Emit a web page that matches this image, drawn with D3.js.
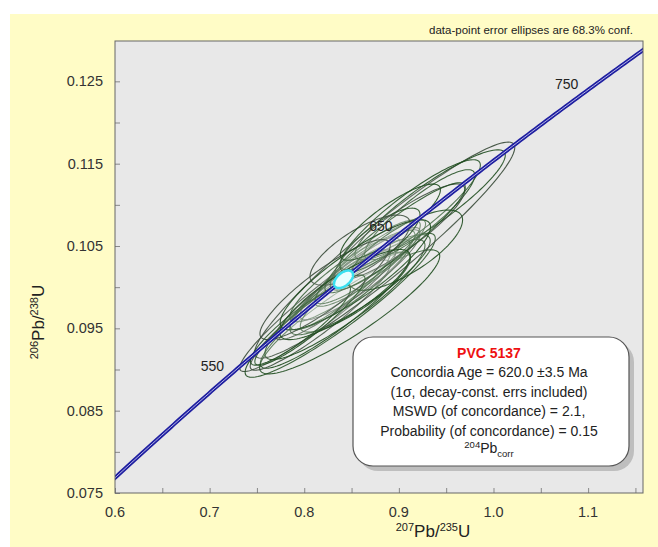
<!DOCTYPE html>
<html>
<head>
<meta charset="utf-8">
<script src="https://cdn.jsdelivr.net/npm/d3@7"></script>
<style>
  body { margin: 0; background: #fff; }
  svg text { font-family: "Liberation Sans", Arial, sans-serif; }
</style>
</head>
<body>
<div id="chart"></div>
<script>
// Spot analyses: 207Pb/235U, 206Pb/238U, 1 sigma errors and error correlation
const ratio75 = [0.827, 0.838, 0.848, 0.833, 0.817, 0.843, 0.848, 0.843, 0.859, 0.838, 0.854, 0.864, 0.833, 0.870,
  0.859, 0.875, 0.885, 0.912, 0.922, 0.933, 0.901, 0.907, 0.896, 0.880, 0.859, 0.891, 0.806, 0.796, 0.822, 0.854, 0.843];
const ratio68 = [0.0985, 0.0978, 0.0970, 0.0972, 0.0966, 0.0985, 0.1003, 0.1009, 0.1015, 0.0997, 0.0994, 0.1023, 0.0991, 0.1031,
  0.1003, 0.1039, 0.1045, 0.1088, 0.1088, 0.1100, 0.1067, 0.1045, 0.1060, 0.1057, 0.1045, 0.1079, 0.0960, 0.0954, 0.0997, 0.1015, 0.0991];
const err75 = [0.0628, 0.0663, 0.0628, 0.0524, 0.0489, 0.0558, 0.0419, 0.0384, 0.0419, 0.0349, 0.0384, 0.0349, 0.0419, 0.0384,
  0.0489, 0.0314, 0.0907, 0.0489, 0.0384, 0.0524, 0.0454, 0.0398, 0.0489, 0.0279, 0.0349, 0.0349, 0.0384, 0.0349, 0.0454, 0.0524, 0.0454];
const err68 = [0.00577, 0.00577, 0.00497, 0.00465, 0.00441, 0.00481, 0.00361, 0.00337, 0.00361, 0.00321, 0.00321, 0.00305, 0.00361, 0.00337,
  0.00401, 0.00281, 0.00866, 0.00441, 0.00361, 0.00441, 0.00385, 0.00321, 0.00441, 0.00257, 0.00281, 0.00305, 0.00361, 0.00321, 0.00401, 0.00441, 0.00361];
const rhos = [0.95, 0.93, 0.90, 0.92, 0.93, 0.90, 0.90, 0.88, 0.90, 0.90, 0.85, 0.88, 0.92, 0.90,
  0.88, 0.85, 0.95, 0.90, 0.88, 0.90, 0.88, 0.75, 0.92, 0.80, 0.75, 0.85, 0.92, 0.90, 0.88, 0.87, 0.85];

// Concordia age result (Ma) and its ellipse errors
const concAge = 620.0;
const concErr = { sx: 0.0066, sy: 0.0007, rho: 0.5 };

// Age labels on the concordia (Ma)
const ageLabels = [550, 650, 750];

const xTicks = [0.6, 0.7, 0.8, 0.9, 1.0, 1.1];
const yTicks = [0.075, 0.085, 0.095, 0.105, 0.115, 0.125];

const infoLines = [
  "Concordia Age = 620.0 \u00b13.5 Ma",
  "(1\u03c3, decay-const. errs included)",
  "MSWD (of concordance) = 2.1,",
  "Probability (of concordance) = 0.15"
];

// decay constants (1/yr)
const l238 = 1.55125e-10, l235 = 9.8485e-10;
const conc = (t) => [Math.exp(l235 * t * 1e6) - 1, Math.exp(l238 * t * 1e6) - 1];

const W = 658, H = 547;
const margin = { top: 41, right: 15, bottom: 54, left: 115 };
const width = W - margin.left - margin.right,
  height = H - margin.top - margin.bottom;

const svg = d3.select("#chart").append("svg")
  .attr("width", W).attr("height", H);

// yellow page background
svg.append("rect").attr("x", 10).attr("y", 14)
  .attr("width", W - 10).attr("height", H - 14).attr("fill", "#fffcc6");

const g = svg.append("g")
  .attr("transform", "translate(" + margin.left + "," + margin.top + ")");

const x = d3.scaleLinear().domain([0.6, 1.158]).range([0, width]);
const y = d3.scaleLinear().domain([0.075, 0.1299]).range([height, 0]);

g.append("rect").attr("width", width).attr("height", height).attr("fill", "#e8e8e8");

g.append("clipPath").attr("id", "clip")
  .append("rect").attr("width", width).attr("height", height);

//Axes with inward ticks every half step
g.append("g")
  .attr("transform", "translate(0," + height + ")")
  .call(d3.axisBottom(x).tickValues(d3.range(0.6, 1.16, 0.05)).tickSize(-5).tickFormat(""))
  .call((a) => a.select(".domain").remove())
  .call((a) => a.selectAll("line").attr("stroke", "#888"));

g.append("g")
  .call(d3.axisLeft(y).tickValues(d3.range(0.075, 0.1299, 0.005)).tickSize(-5).tickFormat(""))
  .call((a) => a.select(".domain").remove())
  .call((a) => a.selectAll("line").attr("stroke", "#888"));

g.selectAll(".xl").data(xTicks).enter().append("text")
  .attr("x", (d) => x(d)).attr("y", height + 24)
  .attr("text-anchor", "middle").attr("font-size", 14.5).attr("fill", "#333")
  .text((d) => d3.format(".1f")(d));

g.selectAll(".yl").data(yTicks).enter().append("text")
  .attr("x", -12).attr("y", (d) => y(d) + 5)
  .attr("text-anchor", "end").attr("font-size", 14.5).attr("fill", "#333")
  .text((d) => d3.format(".3f")(d));

//Error ellipses
const k = Math.sqrt(-2 * Math.log(1 - 0.683));
function ellipse(cx, cy, sx, sy, rho) {
  const pts = d3.range(0, 361, 3).map((a) => {
    const th = (a * Math.PI) / 180;
    return [
      x(cx + k * sx * Math.cos(th)),
      y(cy + k * sy * (rho * Math.cos(th) + Math.sqrt(1 - rho * rho) * Math.sin(th)))
    ];
  });
  return d3.line()(pts) + "Z";
}

const plot = g.append("g").attr("clip-path", "url(#clip)");

plot.selectAll(".ell").data(ratio75).enter().append("path")
  .attr("d", (d, i) => ellipse(d, ratio68[i], err75[i], err68[i], rhos[i]))
  .attr("fill", "#ffffff").attr("fill-opacity", 0.05)
  .attr("stroke", (d, i) => (i % 4 == 0 ? "#384a38" : "#1f4d1f"))
  .attr("stroke-opacity", 0.9).attr("stroke-width", 1.1);

//Concordia curve (double line)
const curve = d3.range(470, 800, 2).map(conc);
const cline = d3.line().x((d) => x(d[0])).y((d) => y(d[1]));
plot.append("path").attr("d", cline(curve)).attr("fill", "none")
  .attr("stroke", "#1e1ea0").attr("stroke-width", 4);
plot.append("path").attr("d", cline(curve)).attr("fill", "none")
  .attr("stroke", "#c8c8ee").attr("stroke-width", 0.9);

//Concordia age ellipse
const ca = conc(concAge);
plot.append("path")
  .attr("d", ellipse(ca[0], ca[1], concErr.sx, concErr.sy, concErr.rho))
  .attr("fill", "#e8ffff").attr("stroke", "#38e0f0").attr("stroke-width", 2.5);

g.selectAll(".age").data(ageLabels).enter().append("text")
  .attr("x", (d) => x(conc(d)[0]) - 15)
  .attr("y", (d) => y(conc(d)[1]) - 6)
  .attr("text-anchor", "middle").attr("font-size", 14).attr("fill", "#222")
  .text((d) => d);

g.append("rect").attr("width", width).attr("height", height)
  .attr("fill", "none").attr("stroke", "#666").attr("stroke-width", 1);

//Axis titles with superscripts
const xt = svg.append("text").attr("x", 433).attr("y", 537)
  .attr("text-anchor", "middle").attr("font-size", 17).attr("fill", "#222");
xt.append("tspan").attr("font-size", 11).attr("dy", -6).text("207");
xt.append("tspan").attr("dy", 6).text("Pb/");
xt.append("tspan").attr("font-size", 11).attr("dy", -6).text("235");
xt.append("tspan").attr("dy", 6).text("U");

const yt = svg.append("text").attr("transform", "translate(44,322) rotate(-90)")
  .attr("text-anchor", "middle").attr("font-size", 17).attr("fill", "#222");
yt.append("tspan").attr("font-size", 11).attr("dy", -6).text("206");
yt.append("tspan").attr("dy", 6).text("Pb/");
yt.append("tspan").attr("font-size", 11).attr("dy", -6).text("238");
yt.append("tspan").attr("dy", 6).text("U");

svg.append("text").attr("x", 633).attr("y", 34)
  .attr("text-anchor", "end").attr("font-size", 11.5).attr("fill", "#222")
  .text("data-point error ellipses are 68.3% conf.");

//Result box
const bx = 353, by = 337, bw = 276, bh = 129;
svg.append("rect").attr("x", bx + 5).attr("y", by + 5).attr("width", bw).attr("height", bh)
  .attr("rx", 20).attr("fill", "#9a9a9a").attr("opacity", 0.55);
svg.append("rect").attr("x", bx).attr("y", by).attr("width", bw).attr("height", bh)
  .attr("rx", 20).attr("fill", "#fff").attr("stroke", "#555").attr("stroke-width", 1.2);

const cxText = bx + bw / 2 - 2;
svg.append("text").attr("x", cxText).attr("y", by + 21)
  .attr("text-anchor", "middle").attr("font-size", 14).attr("font-weight", "bold")
  .attr("fill", "#ee1111").text("PVC 5137");

svg.selectAll(".info").data(infoLines).enter().append("text")
  .attr("x", cxText).attr("y", (d, i) => by + 40 + i * 19.5)
  .attr("text-anchor", "middle").attr("font-size", 14).attr("fill", "#222")
  .text((d) => d);

const pb = svg.append("text").attr("x", cxText).attr("y", by + 116)
  .attr("text-anchor", "middle").attr("font-size", 14).attr("fill", "#222");
pb.append("tspan").attr("font-size", 9.5).attr("dy", -5).text("204");
pb.append("tspan").attr("dy", 5).text("Pb");
pb.append("tspan").attr("font-size", 9.5).attr("dy", 4).text("corr");
</script>
</body>
</html>
